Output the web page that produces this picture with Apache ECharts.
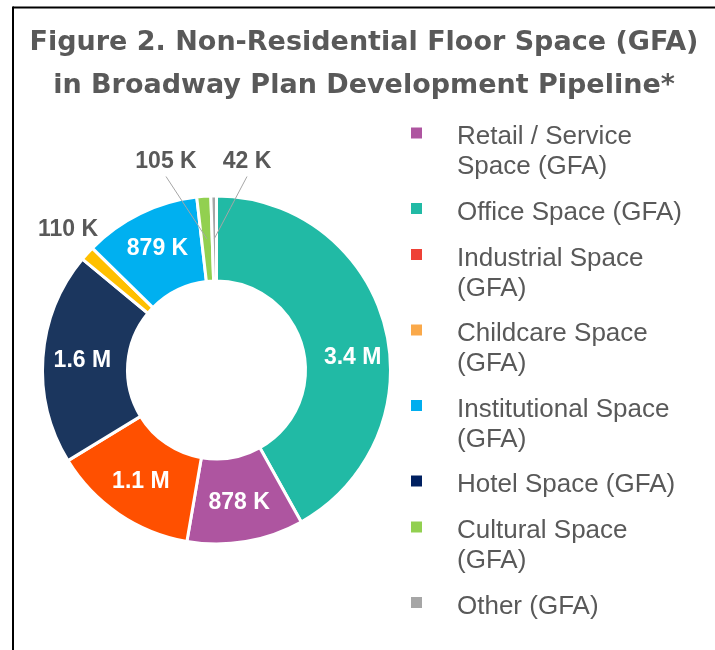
<!DOCTYPE html>
<html>
<head>
<meta charset="utf-8">
<script src="https://cdn.jsdelivr.net/npm/echarts@6/dist/echarts.min.js"></script>
<style>
  html, body { margin: 0; padding: 0; background: #fff; }
  #chart { width: 715px; height: 650px; }
</style>
</head>
<body>
<div id="chart"></div>
<script>
// slices, clockwise from 12 o'clock
const categories = ['Office Space (GFA)', 'Retail / Service Space (GFA)', 'Industrial Space (GFA)',
  'Hotel Space (GFA)', 'Childcare Space (GFA)', 'Institutional Space (GFA)',
  'Cultural Space (GFA)', 'Other (GFA)'];
const values = [3400000, 878000, 1100000, 1600000, 110000, 879000, 105000, 42000];
const sliceColors = ['#21BAA5', '#AE55A0', '#FF5000', '#1B365E', '#FFC000', '#00B0F0', '#92D050', '#A6A6A6'];

// legend order + wrapped text as in the figure
const legendNames = ['Retail / Service Space (GFA)', 'Office Space (GFA)', 'Industrial Space (GFA)',
  'Childcare Space (GFA)', 'Institutional Space (GFA)', 'Hotel Space (GFA)',
  'Cultural Space (GFA)', 'Other (GFA)'];
const legendText = ['Retail / Service\nSpace (GFA)', 'Office Space (GFA)', 'Industrial Space\n(GFA)',
  'Childcare Space\n(GFA)', 'Institutional Space\n(GFA)', 'Hotel Space (GFA)',
  'Cultural Space\n(GFA)', 'Other (GFA)'];
const legendColors = ['#AE55A0', '#21BAA5', '#EE4136', '#FAA94A', '#00AEEF', '#002060', '#92D050', '#A6A6A6'];

const total = values.reduce((a, b) => a + b, 0);
const cx = 216.5, cy = 370, r0 = 89, r1 = 174;

function fmt(v) {
  return v >= 1e6 ? (v / 1e6).toFixed(1) + ' M' : Math.round(v / 1e3) + ' K';
}

// thin slices get their label outside
const outsideLabels = {
  'Childcare Space (GFA)': { x: 68, y: 230, line: false },
  'Cultural Space (GFA)': { x: 166, y: 162, line: true },
  'Other (GFA)': { x: 247, y: 162, line: true }
};

function midAngle(i) {
  let before = 0;
  for (let k = 0; k < i; k++) before += values[k];
  return (90 - (before + values[i] / 2) / total * 360) * Math.PI / 180;
}

// legend: one block per entry; a blank first line pushes the text so
// the square lines up with the first text line
const legends = [];
let iconY = 133;
legendNames.forEach(function (name, i) {
  const lines = legendText[i].split('\n');
  const h0 = 30 * (lines.length - 1) + 8;
  const blockH = h0 + 30 * lines.length;
  const rich = '{sp| }\n' + lines.map(function (l) { return '{t|' + l + '}'; }).join('\n');
  legends.push({
    left: 411,
    top: iconY - blockH / 2 + h0 / 2 - 1,
    padding: 0,
    itemWidth: 11,
    itemHeight: 11,
    selectedMode: false,
    formatter: function () { return rich; },
    textStyle: {
      padding: [0, 0, 0, 30],
      rich: {
        sp: { fontSize: 2, lineHeight: h0 },
        t: { fontFamily: 'Liberation Sans', fontSize: 26, lineHeight: 30, color: '#595959' }
      }
    },
    data: [{ name: name, icon: 'rect', itemStyle: { color: legendColors[i], borderWidth: 0 } }]
  });
  iconY += 29.5 * lines.length + 16.5;
});

function outsideLayout(p) {
  const o = outsideLabels[categories[p.dataIndex]];
  if (!o) return {};
  const a = midAngle(p.dataIndex);
  const rm = (r0 + r1) / 2;
  const ax = cx + rm * Math.cos(a), ay = cy - rm * Math.sin(a);
  const ex = o.x, ey = o.y + p.labelRect.height / 2 + 3;
  return {
    x: o.x, y: o.y, align: 'center', verticalAlign: 'middle',
    labelLinePoints: [[ax, ay], [(ax + ex) / 2, (ay + ey) / 2], [ex, ey]]
  };
}

const labelFont = { fontFamily: 'Liberation Sans', fontSize: 23, fontWeight: 'bold' };

const chart = echarts.init(document.getElementById('chart'));

chart.setOption({
  animation: false,
  title: {
    text: 'Figure 2. Non-Residential Floor Space (GFA)\nin Broadway Plan Development Pipeline*',
    left: 364,
    top: 21.5,
    padding: 0,
    textAlign: 'center',
    textStyle: {
      fontFamily: 'DejaVu Sans',
      fontWeight: 'bold',
      fontSize: 27,
      lineHeight: 43,
      color: '#595959'
    }
  },
  legend: legends,
  graphic: [
    { type: 'line', shape: { x1: 13, y1: 7.5, x2: 715, y2: 7.5 }, style: { stroke: '#000', lineWidth: 2 } },
    { type: 'line', shape: { x1: 13, y1: 6.5, x2: 13, y2: 650 }, style: { stroke: '#000', lineWidth: 2 } }
  ],
  series: [{
    // the ring with the inside labels
    type: 'pie',
    center: [cx, cy],
    radius: [r0, r1],
    startAngle: 90,
    clockwise: true,
    avoidLabelOverlap: false,
    emphasis: { disabled: true },
    itemStyle: { borderColor: '#fff', borderWidth: 3 },
    label: Object.assign({
      show: true,
      position: 'inside',
      formatter: function (p) { return fmt(p.value); },
      color: '#fff'
    }, labelFont),
    labelLayout: function (p) {
      return categories[p.dataIndex] === 'Office Space (GFA)' ? { dx: 6, dy: 22 } : {};
    },
    data: categories.map(function (name, i) {
      return {
        name: name,
        value: values[i],
        itemStyle: { color: sliceColors[i] },
        label: { show: !outsideLabels[name] }
      };
    })
  }, {
    // same ring, transparent, on top: outside labels + leader lines over the slices
    type: 'pie',
    z: 5,
    silent: true,
    center: [cx, cy],
    radius: [r0, r1],
    startAngle: 90,
    clockwise: true,
    avoidLabelOverlap: false,
    emphasis: { disabled: true },
    itemStyle: { color: 'rgba(0,0,0,0)', borderWidth: 0 },
    label: Object.assign({
      position: 'outside',
      formatter: function (p) { return fmt(p.value); },
      color: '#595959'
    }, labelFont),
    labelLine: { lineStyle: { color: '#A6A6A6', width: 1 } },
    labelLayout: outsideLayout,
    data: categories.map(function (name, i) {
      const o = outsideLabels[name];
      return {
        name: name,
        value: values[i],
        label: { show: !!o },
        labelLine: { show: !!(o && o.line) }
      };
    })
  }]
});
</script>
</body>
</html>
